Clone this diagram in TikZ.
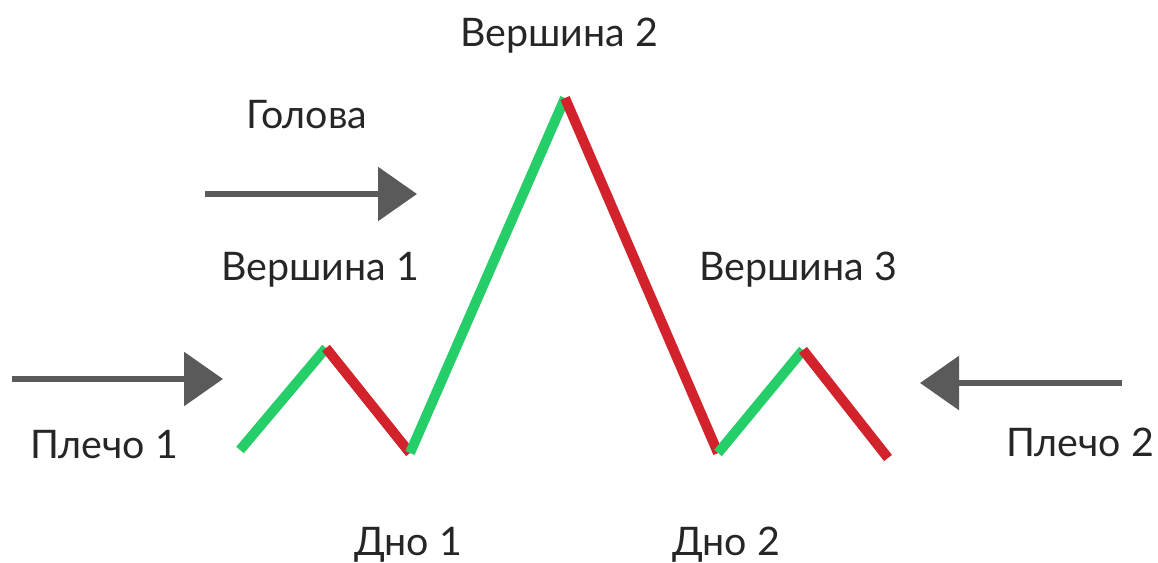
\documentclass[tikz,border=0pt]{standalone}
\usepackage{fontspec}
\setmainfont{Lato}
\usetikzlibrary{arrows.meta}
\definecolor{upGreen}{RGB}{38,206,106}
\definecolor{downRed}{RGB}{210,35,45}
\definecolor{arrowGray}{RGB}{90,90,90}

\begin{document}
\begin{tikzpicture}[x=0.02cm,y=-0.02cm,
    every node/.style={font=\fontsize{22.4}{25}\selectfont,text=black!85},
    leg/.style={line width=0.2cm},
    push/.style={arrowGray,line width=0.12cm,-{Triangle[length=0.78cm,width=1.06cm]}}]

      \useasboundingbox (0,0) rectangle (1158,563);

      % the points of the zigzag
      \def\zigzag{240/450, 326/348, 410/453, 565/98, 718/453, 803/350, 888/458}
      \foreach \x/\y [count=\i] in \zigzag
        \coordinate (p\i) at (\x,\y);

      % draw the legs, green going up and red going down
      \foreach \a/\b/\c in {1/2/upGreen, 2/3/downRed, 3/4/upGreen,
                            4/5/downRed, 5/6/upGreen, 6/7/downRed}
        \draw [leg,\c] (p\a) -- (p\b);

      % the labels
      \node (top2)  at (559,36)   {Вершина 2};
      \node (head)  at (307,115)  {Голова};
      \node (top1)  at (320,270)  {Вершина 1};
      \node (top3)  at (798,270)  {Вершина 3};
      \node (sh1)   at (104,445)  {Плечо 1};
      \node (sh2)   at (1080,442) {Плечо 2};
      \node (low1)  at (408,545)  {Дно 1};
      \node (low2)  at (726,545)  {Дно 2};

      % the arrows
      \coordinate (a1) at (205,194);  \coordinate (b1) at (417,194);
      \coordinate (a2) at (12,379);   \coordinate (b2) at (223,379);
      \coordinate (a3) at (1122,383); \coordinate (b3) at (920,383);
      \foreach \i in {1,2,3}
        \draw [push] (a\i) -- (b\i);

\end{tikzpicture}
\end{document}
